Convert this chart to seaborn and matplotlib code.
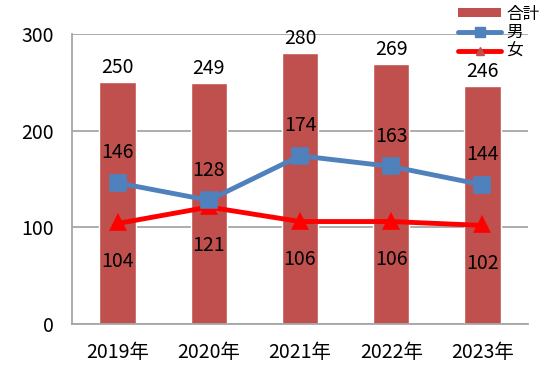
import numpy as np
import pandas as pd
import matplotlib.pyplot as plt
import seaborn as sns
from matplotlib.lines import Line2D
from matplotlib.patches import Patch
from matplotlib.ticker import FixedLocator

# --------------------------------------------------------------
# Data
# --------------------------------------------------------------

years = ["2019年", "2020年", "2021年", "2022年", "2023年"]
total = [250, 249, 280, 269, 246]
male = [146, 128, 174, 163, 144]
female = [104, 121, 106, 106, 102]

bar_color = "#C0504D"
male_color = "#4F81BD"
female_color = "#FF0000"
grid_color = "#A6A6A6"

# --------------------------------------------------------------
# Plot settings
# --------------------------------------------------------------

sns.set_theme(style="white")
plt.rcParams["font.family"] = ["Noto Sans CJK JP", "DejaVu Sans"]
plt.rcParams["font.size"] = 14
plt.rcParams["text.color"] = "black"

df = pd.DataFrame({"year": years, "total": total, "male": male, "female": female})

fig = plt.figure(figsize=(5.43, 3.72), dpi=100)
ax = fig.add_axes([0.1326, 0.129, 0.8398, 0.7796])

sns.barplot(data=df, x="year", y="total", color=bar_color, width=0.4,
            saturation=1, ax=ax, zorder=2)
sns.pointplot(data=df, x="year", y="male", color=male_color, marker="s",
              markersize=10, linewidth=3.5, errorbar=None, ax=ax, zorder=4)
sns.pointplot(data=df, x="year", y="female", color=female_color, marker="^",
              markersize=8, linewidth=3.5, errorbar=None, ax=ax, zorder=3)

# labels
ax.bar_label(ax.containers[0], padding=3, fontsize=14, color="black")
for i, v in enumerate(male):
    ax.annotate(str(v), (i, v), xytext=(0, 30), textcoords="offset pixels",
                ha="center", va="center", fontsize=14, color="black")
for i, v in enumerate(female):
    ax.annotate(str(v), (i, v), xytext=(0, -38), textcoords="offset pixels",
                ha="center", va="center", fontsize=14, color="black")

# axes
ax.set_xlim(-0.5, 4.5)
ax.set_ylim(0, 300)
ax.set_yticks([0, 100, 200, 300])
ax.set_xlabel("")
ax.set_ylabel("")
ax.set_axisbelow(True)
ax.yaxis.grid(True, color=grid_color, linewidth=1.3)
sns.despine(ax=ax, top=True, right=True)
for s in ["left", "bottom"]:
    ax.spines[s].set_color(grid_color)
    ax.spines[s].set_linewidth(1.3)

ax.xaxis.set_minor_locator(FixedLocator(np.arange(-0.5, 5, 1)))
ax.tick_params(axis="x", which="major", length=0, pad=13, labelsize=14, labelcolor="black")
ax.tick_params(axis="x", which="minor", length=4, width=1.3, color=grid_color, direction="out")
ax.tick_params(axis="y", which="major", length=5, width=1.3, color=grid_color,
               direction="out", pad=8, labelsize=14, labelcolor="black")

# legend
handles = [
    Patch(facecolor=bar_color, edgecolor="none", label="合計"),
    Line2D([], [], color=male_color, linewidth=3.5, marker="s", markersize=7, label="男"),
    Line2D([], [], color=female_color, linewidth=3.5, marker="^", markersize=6,
           markerfacecolor=bar_color, markeredgecolor=bar_color, label="女"),
]
fig.legend(handles=handles, loc="upper right", bbox_to_anchor=(1.012, 1.012),
           frameon=False, fontsize=12, handlelength=2.6, handleheight=0.5,
           labelspacing=0.1, handletextpad=0.3, borderaxespad=0.2,
           labelcolor="black")

fig.savefig("out.png", dpi=100)
